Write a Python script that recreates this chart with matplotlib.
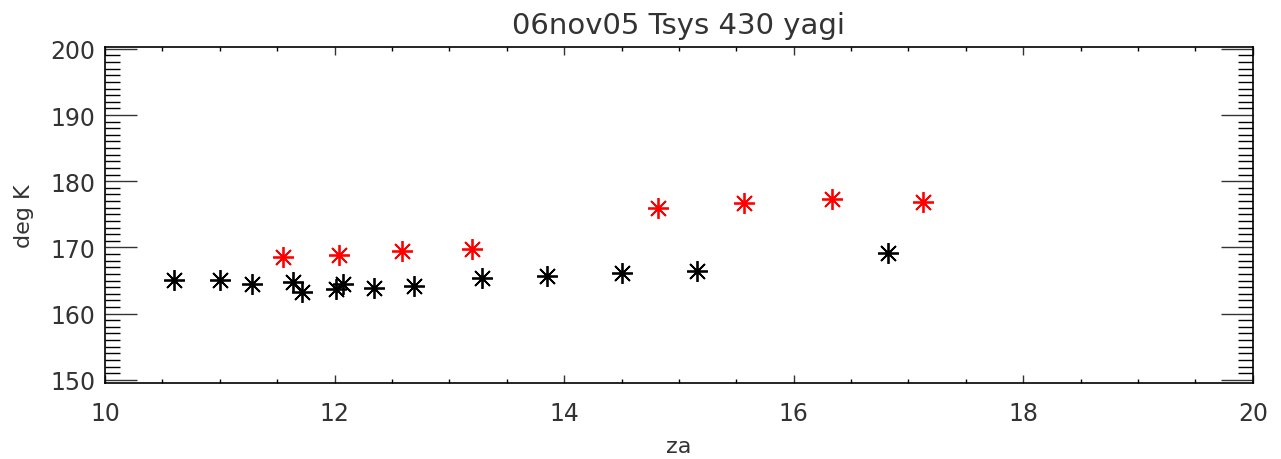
import numpy as np
import matplotlib.pyplot as plt
from matplotlib.ticker import MultipleLocator

# za / Tsys readings, two sets of points
za_black = [10.60, 11.00, 11.28, 11.64, 11.72, 12.01, 12.07, 12.34, 12.69,
            13.28, 13.85, 14.50, 15.16, 16.82]
tsys_black = [165.1, 165.1, 164.5, 164.7, 163.2, 163.7, 164.5, 163.9, 164.2,
              165.4, 165.7, 166.1, 166.4, 169.2]

za_red = [11.55, 12.04, 12.59, 13.20, 14.82, 15.57, 16.33, 17.13]
tsys_red = [168.5, 168.8, 169.4, 169.8, 176.0, 176.7, 177.3, 176.9]

fig = plt.figure(figsize=(12.81, 4.60), dpi=100)
ax = fig.add_axes([0.082, 0.165, 0.896, 0.731])

star = (8, 2, 0)  # 8-spoke asterisk like IDL psym=2
ax.plot(za_black, tsys_black, linestyle='none', marker=star, markersize=15,
        markeredgewidth=1.3, color='black')
ax.plot(za_red, tsys_red, linestyle='none', marker=star, markersize=15,
        markeredgewidth=1.3, color='red')

ax.set_xlim(10, 20)
ax.set_ylim(149.5, 200.3)
ax.xaxis.set_major_locator(MultipleLocator(2))
ax.xaxis.set_minor_locator(MultipleLocator(0.5))
ax.yaxis.set_major_locator(MultipleLocator(10))
ax.yaxis.set_minor_locator(MultipleLocator(1))

ax.tick_params(axis='x', which='major', direction='in', length=6, width=1,
               top=True, pad=13, labelsize=17, colors='#333333')
ax.tick_params(axis='x', which='minor', direction='in', length=3, width=1, top=True)
ax.tick_params(axis='y', which='major', direction='in', length=23, width=1,
               right=True, pad=7, labelsize=17, colors='#333333')
ax.tick_params(axis='y', which='minor', direction='in', length=11, width=1, right=True)
for s in ax.spines.values():
    s.set_linewidth(1.2)

ax.set_title('06nov05 Tsys 430 yagi', fontsize=21, color='#333333', pad=10)
ax.set_xlabel('za', fontsize=16, color='#333333', labelpad=8)
ax.set_ylabel('deg K', fontsize=16, color='#333333', labelpad=12)

plt.savefig('out.png', dpi=100)
